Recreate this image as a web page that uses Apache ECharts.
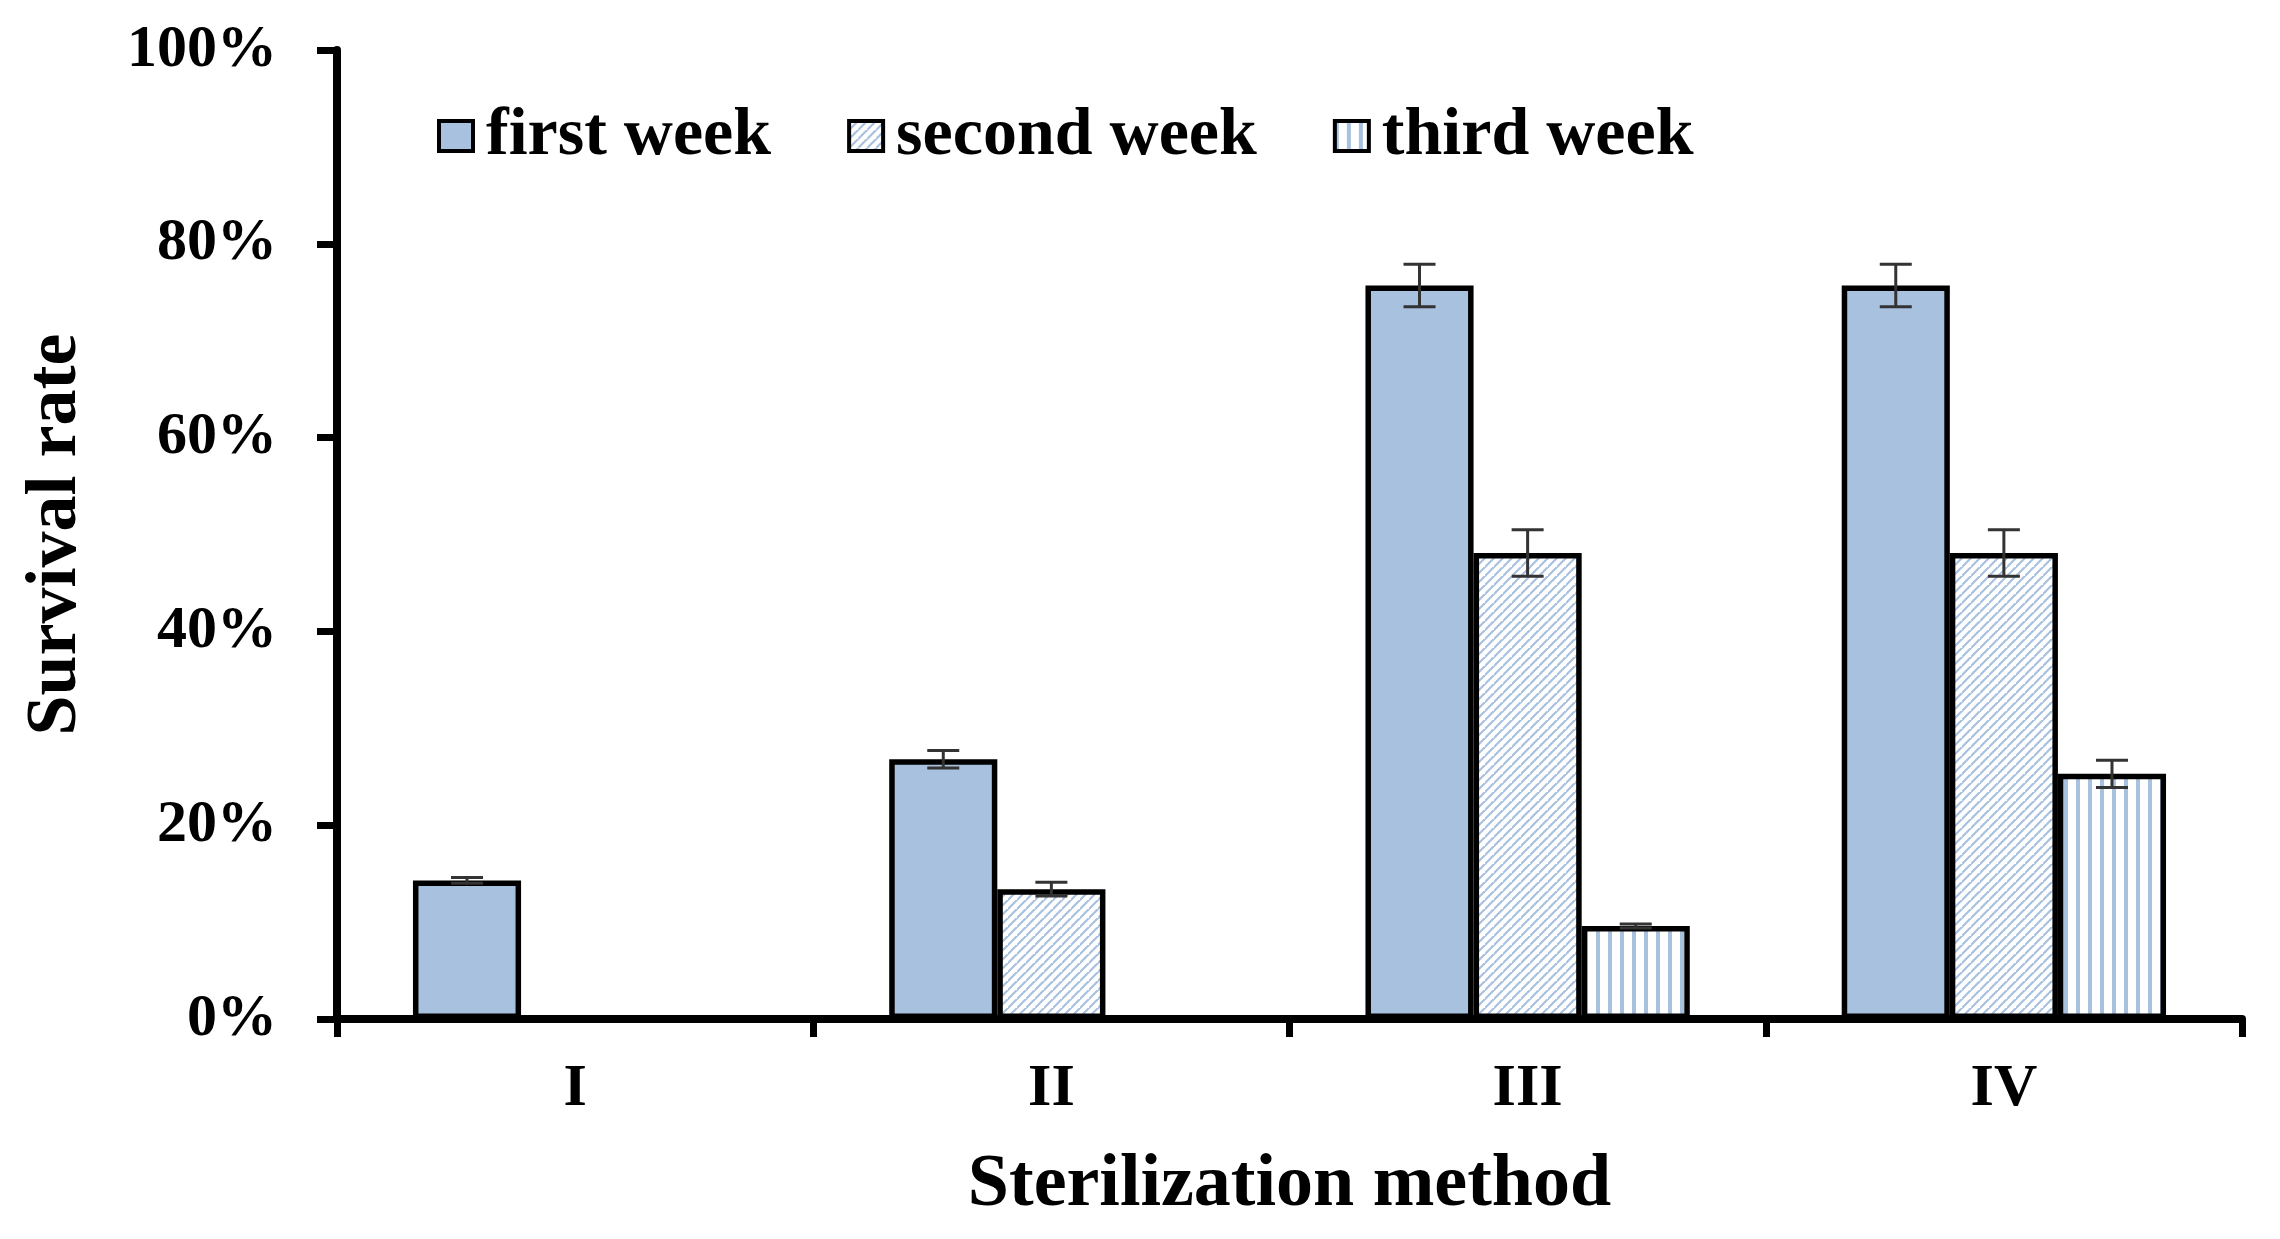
<!DOCTYPE html>
<html>
<head>
<meta charset="utf-8">
<script src="https://cdn.jsdelivr.net/npm/echarts@6/dist/echarts.min.js"></script>
<style>
html,body{margin:0;padding:0;background:#fff;}
#chart{width:2280px;height:1239px;}
</style>
</head>
<body>
<div id="chart"></div>
<script>
const categories = ['I', 'II', 'III', 'IV'];
const seriesNames = ['first week', 'second week', 'third week'];
const firstWeek = [14.3, 26.8, 75.7, 75.7];
const secondWeek = [null, 13.4, 48.1, 48.1];
const thirdWeek = [null, null, 9.6, 25.3];
const firstErr = [0.3, 0.9, 2.2, 2.2];
const secondErr = [null, 0.7, 2.4, 2.4];
const thirdErr = [null, null, 0.2, 1.4];

const BAR_FRAC = 0.227;
const FONT = '"Liberation Serif", "Times New Roman", serif';
const BLUE = '#a8c1df';

function hatchPattern() {
  const s = 9;
  const c = document.createElement('canvas');
  c.width = s; c.height = s;
  const ctx = c.getContext('2d');
  ctx.fillStyle = '#ffffff';
  ctx.fillRect(0, 0, s, s);
  ctx.strokeStyle = BLUE;
  ctx.lineWidth = 2.2;
  ctx.beginPath();
  ctx.moveTo(-2, s + 2); ctx.lineTo(s + 2, -2);
  ctx.moveTo(-2 - s, s + 2); ctx.lineTo(2, -2);
  ctx.moveTo(s - 2, 2 * s + 2); ctx.lineTo(2 * s + 2, s - 2);
  ctx.stroke();
  return c;
}
function stripePattern() {
  const c = document.createElement('canvas');
  c.width = 12; c.height = 12;
  const ctx = c.getContext('2d');
  ctx.fillStyle = '#ffffff';
  ctx.fillRect(0, 0, 12, 12);
  ctx.fillStyle = BLUE;
  ctx.fillRect(0, 0, 4, 12);
  return c;
}

const fills = [BLUE, { image: hatchPattern(), repeat: 'repeat' }, { image: stripePattern(), repeat: 'repeat' }];
const values = [firstWeek, secondWeek, thirdWeek];
const errs = [firstErr, secondErr, thirdErr];

const barSeries = seriesNames.map((name, i) => ({
  name: name,
  type: 'bar',
  barWidth: (BAR_FRAC * 100) + '%',
  barGap: '0%',
  data: values[i],
  itemStyle: { color: fills[i], borderColor: '#000', borderWidth: 5.5 },
  z: 2
}));

const errSeries = seriesNames.map((name, i) => ({
  name: 'err_' + i,
  type: 'custom',
  z: 5,
  silent: true,
  data: values[i].map((v, k) => (v == null ? null : [k, v, errs[i][k]])).filter(d => d),
  encode: { x: 0, y: 1 },
  renderItem: function (params, api) {
    const ci = api.value(0), v = api.value(1), e = api.value(2);
    const band = api.size([1, 0])[0];
    const bw = band * BAR_FRAC;
    const off = (i - 1) * bw;
    const top = api.coord([ci, v + e]);
    const bot = api.coord([ci, v - e]);
    const x = top[0] + off;
    const cap = 16;
    const st = { stroke: '#333', lineWidth: 3 };
    return {
      type: 'group',
      children: [
        { type: 'line', shape: { x1: x, y1: top[1], x2: x, y2: bot[1] }, style: st },
        { type: 'line', shape: { x1: x - cap, y1: top[1], x2: x + cap, y2: top[1] }, style: st },
        { type: 'line', shape: { x1: x - cap, y1: bot[1], x2: x + cap, y2: bot[1] }, style: st }
      ]
    };
  }
}));

const chart = echarts.init(document.getElementById('chart'));
chart.setOption({
  animation: false,
  backgroundColor: '#fff',
  grid: { left: 337, right: 38, top: 50, bottom: 220, containLabel: false, outerBoundsMode: 'none' },
  legend: {
    data: seriesNames,
    left: 432,
    top: 97,
    itemWidth: 34,
    itemHeight: 30,
    itemGap: 76,
    icon: 'rect',
    itemStyle: { borderColor: '#000', borderWidth: 4 },
    textStyle: { fontFamily: FONT, fontWeight: 'bold', fontSize: 68, color: '#000', padding: [0, 0, 0, 8] }
  },
  xAxis: {
    type: 'category',
    data: categories,
    name: 'Sterilization method',
    nameLocation: 'middle',
    nameGap: 130,
    nameTextStyle: { fontFamily: FONT, fontWeight: 'bold', fontSize: 74, color: '#000' },
    axisLine: { lineStyle: { color: '#000', width: 8 } },
    axisTick: { show: true, length: 18, lineStyle: { color: '#000', width: 7 } },
    axisLabel: { fontFamily: FONT, fontWeight: 'bold', fontSize: 60, color: '#000', margin: 40 },
    splitLine: { show: false }
  },
  yAxis: {
    type: 'value',
    min: 0,
    max: 100,
    interval: 20,
    name: 'Survival rate',
    nameLocation: 'middle',
    nameGap: 245,
    nameTextStyle: { fontFamily: FONT, fontWeight: 'bold', fontSize: 72, color: '#000' },
    axisLine: { show: true, lineStyle: { color: '#000', width: 8 } },
    axisTick: { show: true, length: 20, lineStyle: { color: '#000', width: 7 } },
    axisLabel: { fontFamily: FONT, fontWeight: 'bold', fontSize: 60, color: '#000', margin: 60, formatter: '{value}%' },
    splitLine: { show: false }
  },
  series: barSeries.concat(errSeries)
});
</script>
</body>
</html>
